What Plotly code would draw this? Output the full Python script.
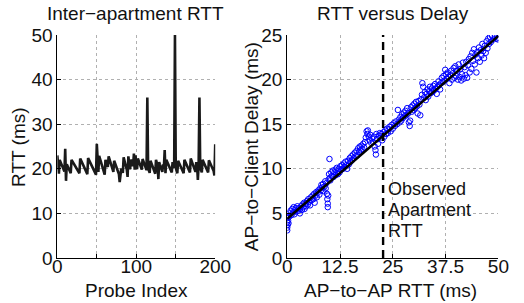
import plotly.graph_objects as go

# ---------------- data ----------------
rtt_values = [
    23.0, 19.2, 18.9, 22.0, 21.5, 21.0, 20.6, 20.2, 19.8, 19.4,
    24.5, 17.3, 21.0, 20.6, 20.2, 19.8, 19.4, 19.0, 22.0, 21.7,
    21.4, 21.1, 20.8, 20.5, 20.2, 19.9, 19.6, 19.3, 19.0, 22.3,
    21.9, 21.5, 21.1, 20.7, 20.3, 19.9, 19.5, 19.1, 18.8, 22.4,
    22.0, 21.6, 21.2, 20.8, 20.4, 20.0, 19.6, 19.2, 18.9, 18.7,
    25.6, 20.5, 19.3, 22.9, 22.3, 21.7, 21.1, 20.5, 19.9, 19.3,
    18.7, 22.0, 21.5, 21.0, 20.4, 22.8, 22.2, 21.6, 21.0, 20.4,
    19.8, 19.3, 21.8, 21.3, 20.8, 20.3, 19.8, 19.3, 18.8, 17.0,
    18.6, 20.1, 19.6, 19.1, 22.6, 21.9, 21.2, 20.5, 19.8, 18.2,
    22.8, 21.3, 19.9, 21.0, 22.1, 21.4, 20.6, 23.4, 19.8, 23.0,
    20.5, 19.9, 22.3, 21.8, 21.3, 20.8, 20.3, 19.8, 22.2, 21.7,
    21.2, 20.6, 20.1, 19.7, 36.0, 20.2, 19.6, 19.1, 21.8, 21.4,
    21.0, 20.5, 20.0, 19.4, 18.9, 22.0, 21.4, 20.8, 17.7, 21.5,
    20.9, 20.3, 19.8, 19.3, 21.0, 20.4, 24.2, 19.0, 22.0, 21.6,
    21.2, 20.8, 20.4, 20.0, 19.6, 19.2, 21.5, 20.8, 20.2, 50.0,
    20.3, 19.6, 19.0, 21.8, 21.4, 21.0, 20.6, 20.2, 19.8, 19.4,
    19.0, 22.0, 21.6, 21.2, 20.8, 20.4, 20.0, 19.6, 19.2, 22.3,
    21.8, 21.3, 20.8, 20.3, 19.8, 19.3, 21.5, 20.9, 17.5, 21.0,
    36.0, 20.4, 19.7, 19.2, 22.0, 21.6, 21.2, 20.8, 20.4, 20.0,
    19.6, 19.2, 21.9, 21.5, 21.1, 20.7, 20.3, 19.9, 19.5, 18.5,
    25.5,
]
probe_index = list(range(len(rtt_values)))

ap_rtt = [
    0.0, 0.0, 0.1, 0.0, 0.2, 0.1, 0.3, 0.2, 0.4, 0.5,
    0.8, 1.0, 1.2, 1.4, 1.5, 1.7, 1.9, 2.0, 2.2, 2.4,
    2.6, 2.8, 3.0, 3.1, 3.3, 3.5, 3.6, 3.8, 4.0, 4.1,
    4.3, 4.5, 4.7, 4.9, 5.0, 5.2, 5.4, 5.6, 5.8, 6.0,
    6.2, 6.4, 6.5, 6.7, 6.9, 7.0, 7.2, 7.4, 7.6, 7.8,
    8.0, 8.1, 8.3, 8.5, 8.6, 8.8, 9.0, 9.1, 9.3, 9.4,
    9.5, 9.6, 9.6, 9.7, 9.8, 9.9, 10.0, 10.1, 10.2, 10.4,
    10.6, 10.8, 11.0, 11.2, 11.4, 11.5, 11.7, 11.9, 12.0, 12.2,
    12.4, 12.6, 12.8, 13.0, 13.2, 13.4, 13.6, 13.8, 14.0, 14.2,
    14.4, 14.6, 14.8, 15.0, 15.2, 15.4, 15.6, 15.8, 16.0, 16.2,
    16.4, 16.6, 16.8, 17.0, 17.2, 17.4, 17.6, 17.8, 18.0, 18.2,
    18.4, 18.6, 18.8, 19.0, 19.1, 19.3, 19.5, 19.7, 19.9, 20.1,
    20.3, 20.5, 20.7, 20.9, 21.0, 21.1, 21.3, 21.5, 21.7, 21.9,
    22.1, 22.3, 22.5, 22.8, 23.0, 23.2, 23.4, 23.6, 23.8, 24.0,
    24.2, 24.5, 24.7, 25.0, 25.2, 25.5, 25.7, 26.0, 26.2, 26.4,
    26.6, 26.8, 27.0, 27.2, 27.4, 27.6, 27.8, 28.0, 28.2, 28.4,
    28.6, 28.8, 29.0, 29.1, 29.3, 29.5, 29.7, 29.9, 30.1, 30.3,
    30.5, 30.7, 30.9, 31.1, 31.3, 31.5, 31.7, 31.9, 32.0, 32.2,
    32.4, 32.6, 32.8, 33.0, 33.2, 33.4, 33.6, 33.8, 34.0, 34.2,
    34.4, 34.6, 34.8, 35.0, 35.2, 35.4, 35.6, 35.8, 36.0, 36.2,
    36.4, 36.6, 36.8, 37.0, 37.2, 37.4, 37.6, 37.8, 38.0, 38.2,
    38.4, 38.6, 38.8, 39.0, 39.2, 39.4, 39.6, 39.8, 40.0, 40.2,
    40.4, 40.6, 40.8, 41.0, 41.2, 41.4, 41.6, 41.8, 42.0, 42.2,
    42.4, 42.6, 42.8, 43.0, 43.2, 43.4, 43.6, 43.8, 44.0, 44.2,
    44.4, 44.6, 44.8, 45.0, 45.2, 45.4, 45.6, 45.8, 46.0, 46.2,
    46.4, 46.6, 46.8, 47.0, 47.2, 47.4, 47.6, 47.8, 48.0, 48.2,
    48.5, 48.8, 49.2, 49.6, 50.0, 49.9,
]
client_delay = [
    3.1, 3.4, 3.7, 4.0, 4.2, 4.5, 3.9, 4.7, 4.6, 5.0,
    5.3, 4.8, 5.5, 5.1, 5.7, 4.9, 5.4, 5.6, 5.2, 5.8,
    5.3, 5.6, 5.0, 5.5, 5.8, 5.4, 6.0, 5.7, 6.2, 5.5,
    6.1, 5.8, 6.4, 6.0, 6.6, 6.3, 5.9, 6.8, 6.5, 7.0,
    6.6, 7.2, 6.2, 7.0, 7.4, 6.8, 7.3, 7.6, 7.1, 7.8,
    7.6, 8.2, 7.9, 8.3, 7.5, 8.0, 8.6, 7.8, 8.4, 7.2,
    6.6, 6.1, 5.7, 7.0, 8.8, 9.4, 11.1, 9.0, 8.7, 9.6,
    9.2, 9.8, 9.1, 9.6, 9.9, 9.3, 10.1, 9.7, 9.4, 10.0,
    9.6, 10.3, 9.9, 10.4, 10.0, 10.6, 10.2, 10.8, 10.4, 10.0,
    10.9, 10.5, 11.2, 10.8, 11.4, 11.0, 11.6, 11.2, 11.8, 11.4,
    12.0, 11.5, 12.3, 11.9, 12.5, 12.1, 12.6, 12.2, 12.8, 12.4,
    13.0, 13.5, 14.2, 13.9, 14.3, 13.6, 13.2, 13.8, 12.9, 13.4,
    13.0, 13.6, 12.5, 12.1, 11.6, 13.9, 13.3, 12.8, 13.7, 14.0,
    13.5, 13.9, 13.2, 14.1, 13.6, 14.3, 13.9, 14.5, 14.0, 14.4,
    14.7, 14.2, 14.9, 14.5, 15.1, 14.8, 15.3, 15.0, 16.6, 15.5,
    15.2, 15.8, 15.4, 16.1, 15.7, 16.3, 15.9, 16.5, 16.0, 16.8,
    16.2, 15.2, 14.8, 15.4, 16.9, 16.4, 17.1, 16.6, 17.3, 16.8,
    17.5, 17.0, 16.2, 17.6, 17.2, 16.0, 17.8, 18.3, 19.6, 19.2,
    18.0, 18.6, 17.7, 18.4, 18.9, 18.1, 18.7, 19.2, 18.5, 19.0,
    18.6, 19.3, 18.8, 19.5, 19.0, 18.4, 19.2, 19.8, 19.4, 18.9,
    19.6, 20.2, 19.7, 20.4, 19.9, 21.1, 20.6, 20.1, 20.8, 20.3,
    19.6, 20.5, 21.0, 20.0, 20.7, 21.3, 20.2, 21.5, 20.4, 21.0,
    20.0, 21.7, 20.3, 21.2, 19.9, 20.6, 21.9, 20.1, 21.4, 20.5,
    22.0, 20.2, 21.6, 22.3, 20.8, 22.6, 21.2, 23.0, 22.1, 23.4,
    21.7, 22.8, 20.8, 23.1, 22.4, 23.6, 22.0, 23.3, 22.7, 24.0,
    23.2, 22.4, 23.8, 23.0, 24.3, 23.5, 24.6, 24.0, 24.8, 24.2,
    24.9, 24.5, 24.8, 24.6, 24.7, 24.5,
]

fit_x = [0, 50]
fit_y = [4.4, 24.9]
observed_apartment_rtt = 22.7

left_xticks = [0, 50, 100, 150, 200]
left_xticklabels = ["0", "", "100", "", "200"]
left_yticks = [0, 10, 20, 30, 40, 50]
right_xticks = [0, 12.5, 25, 37.5, 50]
right_xticklabels = ["0", "12.5", "25", "37.5", "50"]
right_yticks = [0, 5, 10, 15, 20, 25]

# ---------------- figure ----------------
FONT = "Liberation Sans, Arial, Helvetica, sans-serif"
W, H = 524, 303
MT, MB = 35, 45
TXT = "#111111"


def fx(px):
    return px / W


ph = H - MT - MB


def fy(px):
    return (H - MB - px) / ph


fig = go.Figure()

fig.add_trace(go.Scatter(
    x=probe_index, y=rtt_values, mode="lines",
    line=dict(color="#1a1a1a", width=2.6),
    xaxis="x", yaxis="y", showlegend=False,
))

fig.add_trace(go.Scatter(
    x=ap_rtt, y=client_delay, mode="markers",
    marker=dict(symbol="circle-open", size=5.5, color="#0000ff",
                line=dict(width=1, color="#0000ff")),
    xaxis="x2", yaxis="y2", showlegend=False,
))

fig.add_trace(go.Scatter(
    x=fit_x, y=fit_y, mode="lines",
    line=dict(color="black", width=2.4),
    xaxis="x2", yaxis="y2", showlegend=False,
))

fig.add_trace(go.Scatter(
    x=[observed_apartment_rtt, observed_apartment_rtt], y=[0, 25], mode="lines",
    line=dict(color="black", width=2.4, dash="8px,5px"),
    xaxis="x2", yaxis="y2", showlegend=False,
))

axis_common = dict(
    showline=True, linecolor="black", linewidth=1, mirror=False,
    ticks="inside", ticklen=4, tickcolor="black",
    showgrid=True, gridcolor="#b0b0b0", gridwidth=1, griddash="dot",
    zeroline=False,
    tickfont=dict(family=FONT, size=19, color=TXT),
)

fig.update_layout(
    width=W, height=H,
    margin=dict(l=0, r=0, t=MT, b=MB),
    paper_bgcolor="white", plot_bgcolor="white",
    xaxis=dict(domain=[fx(54.5), fx(219)], range=[0, 200], ticklabelstandoff=-9,
               tickvals=left_xticks, ticktext=left_xticklabels, **axis_common),
    yaxis=dict(domain=[0, 1], range=[0, 50], tickvals=left_yticks, **axis_common),
    xaxis2=dict(domain=[fx(294), fx(514)], range=[0, 50], anchor="y2", ticklabelstandoff=-9,
                tickvals=right_xticks, ticktext=right_xticklabels, **axis_common),
    yaxis2=dict(domain=[0, 1], range=[0, 25], anchor="x2",
                tickvals=right_yticks, **axis_common),
)

annots = [
    dict(text="Inter\u2212apartment RTT", x=fx(136), y=fy(14), size=19),
    dict(text="RTT versus Delay", x=fx(404), y=fy(14), size=19),
    dict(text="Probe Index", x=fx(137), y=fy(290), size=19),
    dict(text="AP\u2212to\u2212AP RTT (ms)", x=fx(402), y=fy(290), size=19),
]
for a in annots:
    fig.add_annotation(text=a["text"], x=a["x"], y=a["y"], xref="paper", yref="paper",
                       xanchor="center", yanchor="middle", showarrow=False,
                       font=dict(family=FONT, size=a["size"], color=TXT))

for txt, xp in [("RTT (ms)", 14), ("AP\u2212to\u2212Client Delay (ms)", 257)]:
    fig.add_annotation(text=txt, x=fx(xp), y=0.5, xref="paper", yref="paper",
                       xanchor="center", yanchor="middle", textangle=-90, showarrow=False,
                       font=dict(family=FONT, size=19, color=TXT))

for txt, yv in [("Observed", 7.7), ("Apartment", 5.4), ("RTT", 3.0)]:
    fig.add_annotation(text=txt, x=observed_apartment_rtt + 0.6, y=yv, xref="x2", yref="y2",
                       xanchor="left", yanchor="middle", showarrow=False,
                       font=dict(family=FONT, size=18, color=TXT))

fig.write_html(
    "out.html",
    config={"displayModeBar": False, "staticPlot": True},
    post_script="document.body.style.margin='0';document.body.style.overflow='hidden';",
)
